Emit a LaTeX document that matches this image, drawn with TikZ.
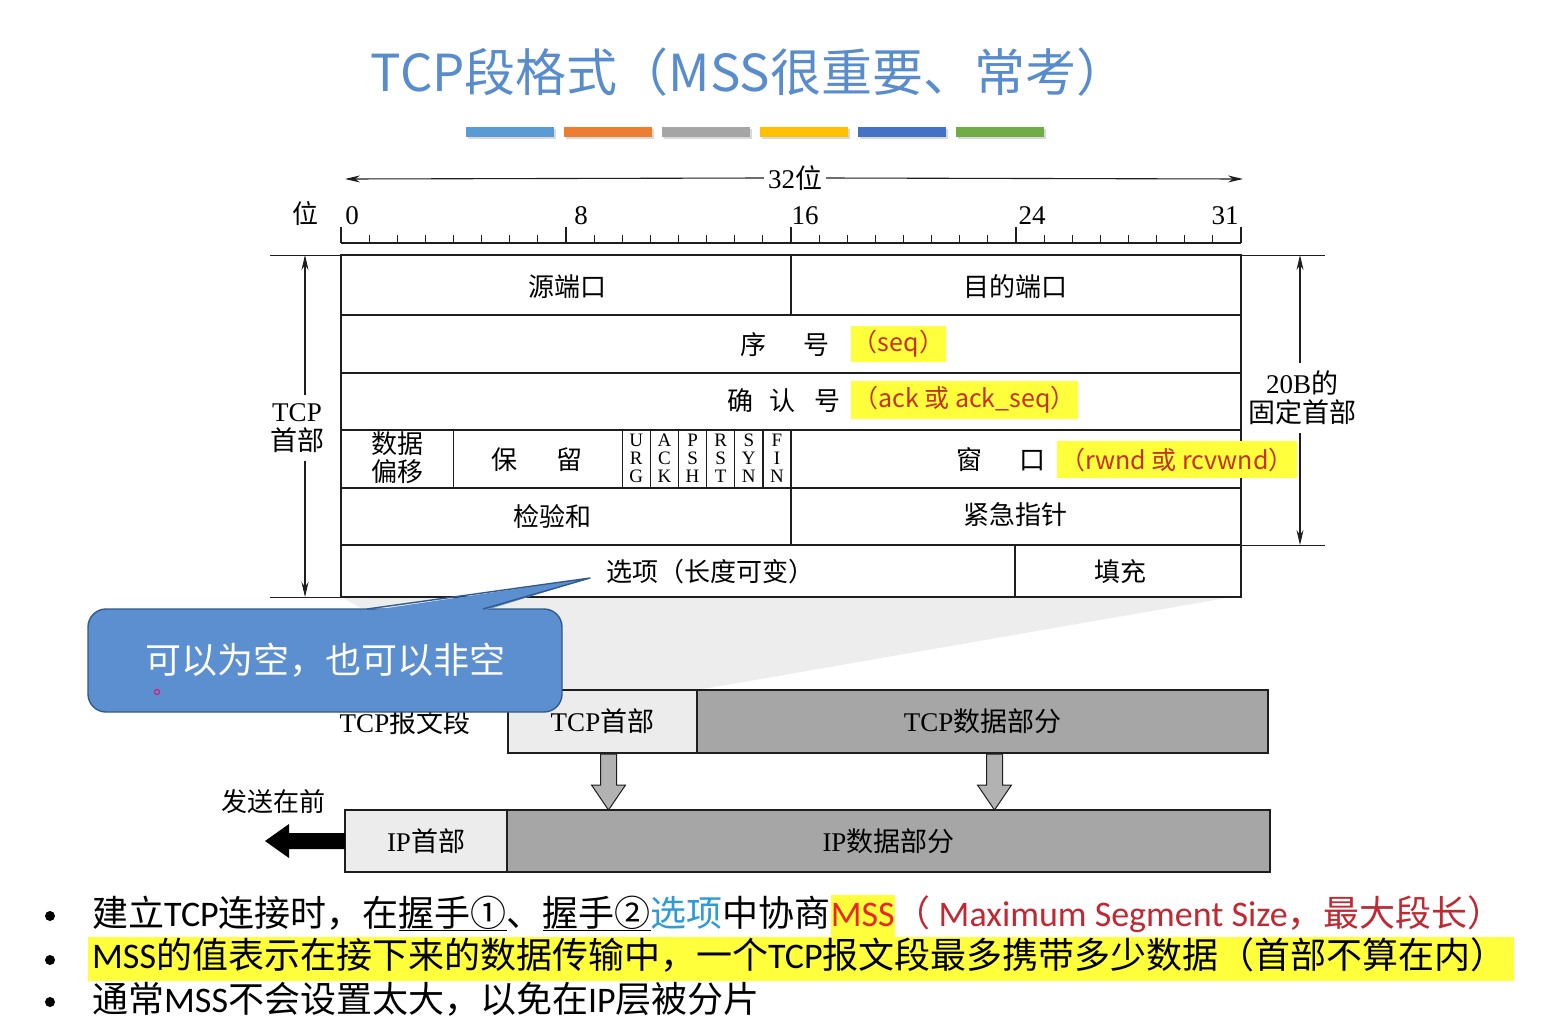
\documentclass[tikz,border=0pt]{standalone}
\usepackage{fontspec}
\setmainfont{Liberation Serif}
\newfontfamily\cjk{Noto Sans CJK SC}
\newfontfamily\lat{Carlito}
\usepackage{xcolor}
\definecolor{titleblue}{RGB}{88,140,205}
\definecolor{barblue}{RGB}{91,155,213}
\definecolor{barorange}{RGB}{237,125,49}
\definecolor{bargray}{RGB}{165,165,165}
\definecolor{baryellow}{RGB}{255,192,0}
\definecolor{bardarkblue}{RGB}{68,114,196}
\definecolor{bargreen}{RGB}{112,173,71}
\definecolor{hlyellow}{RGB}{255,255,60}
\definecolor{hlred}{RGB}{196,50,30}
\definecolor{notefill}{RGB}{91,143,207}
\definecolor{noteedge}{RGB}{50,90,140}
\definecolor{optblue}{RGB}{46,154,214}
\definecolor{mssred}{RGB}{230,40,40}
\definecolor{sizered}{RGB}{192,40,50}
\definecolor{inkgray}{RGB}{30,30,30}
\usepackage{tikz}
\usetikzlibrary{arrows.meta, positioning, calc}
\newcommand{\zh}[1]{{\cjk #1}}

\tikzset{
  zhtext/.style={font=\cjk\fontsize{26}{30}\selectfont, inner sep=0pt},
  rmtext/.style={font=\fontsize{27}{29}\selectfont, inner sep=0pt},
  hlbox/.style={fill=hlyellow, text=hlred, font=\cjk\fontsize{25}{30}\selectfont, inner sep=0pt},
  flagtext/.style={font=\fontsize{19}{18}\selectfont, align=center, inner sep=0pt},
  segbox/.style={draw=inkgray, line width=1.8pt, inner sep=0pt, outer sep=0pt, font=\fontsize{27}{30}\selectfont},
  dimarrow/.style={-{Stealth[length=15pt,width=7pt]}, line width=1.1pt, inkgray},
  blockarrow/.style={fill=gray!60, draw=inkgray, line width=1pt},
  bullettext/.style={anchor=base west, inner sep=0pt, font=\cjk\fontsize{36}{44}\selectfont},
}

\begin{document}
\begin{tikzpicture}[x=1pt, y=-1pt, >=Stealth]
    \useasboundingbox (0,0) rectangle (1549,1026);
    \fill[white] (0,0) rectangle (1549,1026);

    % title and colour bars
    \node[text=titleblue, font=\cjk\fontsize{51}{60}\selectfont] (title) at (749,72) {TCP段格式（MSS很重要、常考）};
    \foreach \c [count=\k from 0] in {barblue,barorange,bargray,baryellow,bardarkblue,bargreen} {
        \fill[black!15] (468+\k*98,129) rectangle ++(88,10);
        \fill[\c] (466+\k*98,127) rectangle ++(88,10);
    }

    % bit ruler
    \coordinate (bitL) at (345,179);
    \coordinate (bitR) at (1243,179);
    \node[rmtext, fill=white, inner sep=4pt] (width32) at (795,178) {32\zh{位}};
    \draw[dimarrow] (width32.west) -- (bitL);
    \draw[dimarrow] (width32.east) -- (bitR);
    \node[zhtext] (bitword) at (305,213) {位};
    \draw[line width=1.2pt, inkgray] (341,243) -- (1241,243);
    \foreach \i in {0,...,32}
        \draw[line width=1pt, inkgray] (341+\i*28.125,243) -- ++(0,-8);
    \foreach \i in {0,8,16,24,32}
        \draw[line width=1.2pt, inkgray] (341+\i*28.125,243) -- ++(0,-16);
    \foreach \n/\x in {0/352, 8/581, 16/805, 24/1032, 31/1225}
        \node[rmtext] (bit\n) at (\x,216) {\n};

    % projection of the header
    \fill[gray!14] (341,597) -- (1232,597) -- (697,690) -- (508,690) -- cycle;

    % header table
    \foreach \y in {315,373,430,488,545}
        \draw[line width=1.4pt, inkgray] (341,\y) -- (1241,\y);
    \draw[line width=1.4pt, inkgray] (791,255) -- (791,315);
    \draw[line width=1.4pt, inkgray] (791,488) -- (791,545);
    \draw[line width=1.4pt, inkgray] (1015,545) -- (1015,597);
    \draw[line width=1.4pt, inkgray] (453.5,430) -- (453.5,488);
    \foreach \k in {0,...,6}
        \draw[line width=1.4pt, inkgray] (622.25+\k*28.125,430) -- ++(0,58);
    \draw[line width=2.4pt, inkgray] (341,255) rectangle (1241,597);

    \node[zhtext] (srcport) at (567,287) {源端口};
    \node[zhtext] (dstport) at (1015,287) {目的端口};
    \node[zhtext] (seqno) at (785,345) {序\hspace{38pt}号};
    \node[hlbox, minimum width=95, minimum height=36] (seqhl) at (898.5,344) {（seq）};
    \node[zhtext] (ackno) at (784,401) {确\hspace{17pt}认\hspace{19pt}号};
    \node[hlbox, minimum width=227, minimum height=38] (ackhl) at (964.5,400) {（ack 或 ack\_seq）};
    \node[zhtext, align=center, font=\cjk\fontsize{26}{28}\selectfont] (offset) at (397,458) {数据\\偏移};
    \node[zhtext] (reserved) at (537,460) {保\hspace{39pt}留};
    \foreach \f [count=\k from 0] in {{U\\R\\G},{A\\C\\K},{P\\S\\H},{R\\S\\T},{S\\Y\\N},{F\\I\\N}}
        \node[flagtext] (flag\k) at (636.3+\k*28.125,458) {\f};
    \node[zhtext] (window) at (1001,460) {窗\hspace{37pt}口};
    \node[hlbox, minimum width=240, minimum height=37] (winhl) at (1177,459.5) {（rwnd 或 rcvwnd）};
    \node[zhtext] (checksum) at (552,517) {检验和};
    \node[zhtext] (urgptr) at (1015,515) {紧急指针};
    \node[zhtext] (options) at (710,572) {选项（长度可变）};
    \node[zhtext] (padding) at (1120,572) {填充};

    % dimension lines
    \draw[line width=1pt, inkgray] (270,255) -- (341,255);
    \draw[line width=1pt, inkgray] (270,597) -- (341,597);
    \draw[line width=1pt, inkgray] (1241,255) -- (1325,255);
    \draw[line width=1pt, inkgray] (1241,545) -- (1325,545);
    \coordinate (hdrtop) at (305,255);
    \coordinate (hdrbot) at (305,597);
    \node[rmtext, align=center, inner sep=8pt] (hdrlbl) at (297,428) {TCP\\\zh{首部}};
    \draw[dimarrow] (hdrlbl.north -| hdrtop) -- (hdrtop);
    \draw[dimarrow] (hdrlbl.south -| hdrbot) -- (hdrbot);
    \coordinate (fixtop) at (1300,255);
    \coordinate (fixbot) at (1300,545);
    \node[rmtext, align=center, inner sep=8pt] (fixlbl) at (1302,398) {20B\zh{的}\\\zh{固定首部}};
    \draw[dimarrow] (fixlbl.north -| fixtop) -- (fixtop);
    \draw[dimarrow] (fixlbl.south -| fixbot) -- (fixbot);

    % TCP segment inside the IP datagram
    \node[rmtext] (seglbl) at (405,722) {TCP\zh{报文段}};
    \node[segbox, fill=gray!15, minimum width=189, minimum height=63] (tcphdr) at (602.5,721.5) {TCP\zh{首部}};
    \node[segbox, fill=gray!70, minimum width=571, minimum height=63, right=0pt of tcphdr] (tcpdata) {TCP\zh{数据部分}};
    \node[segbox, fill=gray!15, minimum width=162, minimum height=62] (iphdr) at (426,841) {IP\zh{首部}};
    \node[segbox, fill=gray!70, minimum width=763, minimum height=62, right=0pt of iphdr] (ipdata) {IP\zh{数据部分}};

    \foreach \s/\dx in {tcphdr/6, tcpdata/12} {
        \path ($(\s.south)+(\dx,0)$) coordinate (top) (top |- ipdata.north) coordinate (bot);
        \filldraw[blockarrow] ($(top)+(-8,1)$) -- ($(top)+(8,1)$) -- ($(bot)+(8,-25)$) -- ($(bot)+(17,-25)$)
            -- (bot) -- ($(bot)+(-17,-25)$) -- ($(bot)+(-8,-25)$) -- cycle;
    }

    \node[zhtext] (sendlbl) at (273,802) {发送在前};
    \coordinate (sendtip) at ($(iphdr.west)+(-80,0)$);
    \fill[black] ($(iphdr.west)+(0,-8)$) -- ($(iphdr.west)+(-56,-8)$) -- ($(iphdr.west)+(-56,-17)$) -- (sendtip)
        -- ($(iphdr.west)+(-56,17)$) -- ($(iphdr.west)+(-56,8)$) -- ($(iphdr.west)+(0,8)$) -- cycle;

    % callout on the options field
    \coordinate (tip) at (590,578);
    \node[fill=notefill, draw=noteedge, line width=1.4pt, rounded corners=18, minimum width=474, minimum height=103,
          text=white, font=\cjk\fontsize{36}{40}\selectfont] (note) at (325,660.5) {可以为空，也可以非空};
    \fill[notefill] (367,611) -- (tip) -- (483,611) -- cycle;
    \draw[noteedge, line width=1.4pt, line join=round] (367,609) -- (tip) -- (483,609);
    \draw[magenta!70!red, line width=1pt] (157,692) circle (2.5pt);

    % notes
    \foreach \y in {916,960,1002}
        \fill[black] (50,\y) circle (5pt);
    \node[bullettext] (note1) at (92,926) {建立{\lat TCP}连接时，在\underline{握手①}、\underline{握手②}\textcolor{optblue}{选项}中协商{\fboxsep=0pt\colorbox{hlyellow}{\strut\lat\color{mssred}MSS}}\textcolor{sizered}{（ {\lat Maximum Segment Size}，最大段长）}};
    \node[bullettext] (note2) at (88,968) {{\fboxsep=0pt\colorbox{hlyellow}{\strut\hspace{4pt}{\lat MSS}的值表示在接下来的数据传输中，一个{\lat TCP}报文段最多携带多少数据（首部不算在内）\hspace{7pt}}}};
    \node[bullettext] (note3) at (92,1012) {通常{\lat MSS}不会设置太大，以免在{\lat IP}层被分片};
\end{tikzpicture}
\end{document}
